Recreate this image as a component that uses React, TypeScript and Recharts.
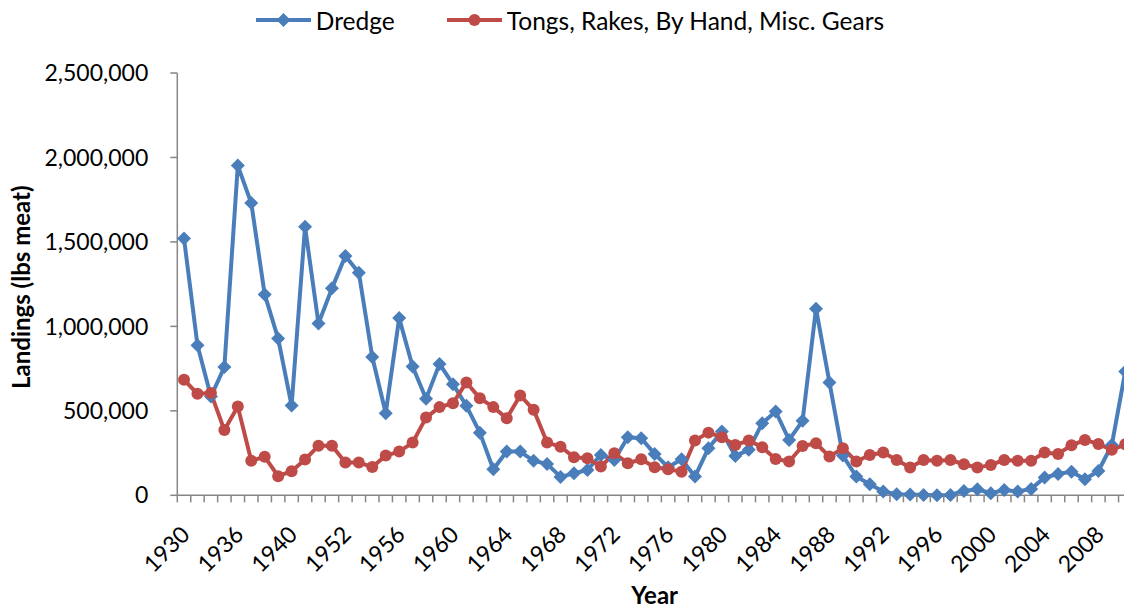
import React from 'react';
import { LineChart, Line, XAxis, YAxis, Legend } from 'recharts';

const years = [
  '1930', '1931', '1932', '1935', '1936', '1937', '1938', '1939', '1940', '1948', '1950', '1951',
  '1952', '1953', '1954', '1955', '1956', '1957', '1958', '1959', '1960', '1961', '1962', '1963',
  '1964', '1965', '1966', '1967', '1968', '1969', '1970', '1971', '1972', '1973', '1974', '1975',
  '1976', '1977', '1978', '1979', '1980', '1981', '1982', '1983', '1984', '1985', '1986', '1987',
  '1988', '1989', '1990', '1991', '1992', '1993', '1994', '1995', '1996', '1997', '1998', '1999',
  '2000', '2001', '2002', '2003', '2004', '2005', '2006', '2007', '2008', '2009', '2010',
];

const dredge = [
  1520000, 888000, 585000, 759000, 1952000, 1730000, 1189000, 928000, 531000, 1590000, 1017000, 1225000,
  1417000, 1318000, 819000, 486000, 1049000, 763000, 571000, 778000, 658000, 530000, 371000, 154000,
  259000, 259000, 204000, 186000, 109000, 130000, 150000, 239000, 209000, 344000, 338000, 245000,
  166000, 213000, 111000, 279000, 377000, 233000, 269000, 427000, 496000, 328000, 441000, 1105000,
  668000, 235000, 111000, 65000, 22000, 6000, 4000, 2000, 1000, 2000, 26000, 36000,
  12000, 32000, 22000, 38000, 105000, 126000, 140000, 95000, 144000, 298000, 733000,
];

const tongs = [
  684000, 601000, 605000, 386000, 525000, 204000, 228000, 113000, 143000, 212000, 293000, 293000,
  194000, 194000, 168000, 235000, 259000, 312000, 460000, 522000, 545000, 668000, 575000, 522000,
  456000, 591000, 506000, 312000, 288000, 225000, 219000, 170000, 249000, 190000, 213000, 166000,
  154000, 140000, 324000, 371000, 344000, 298000, 324000, 285000, 215000, 200000, 292000, 308000,
  229000, 279000, 200000, 239000, 253000, 209000, 164000, 209000, 205000, 209000, 184000, 164000,
  180000, 209000, 204000, 205000, 253000, 245000, 296000, 328000, 304000, 269000, 302000,
];

const yTicks = [0, 500000, 1000000, 1500000, 2000000, 2500000];

const data = years.map((y, i) => ({ year: y, dredge: dredge[i], tongs: tongs[i] }));

const BLUE = '#4A7EBB';
const RED = '#BE4B48';
const AXIS = '#868686';
const FONT = "Lato, 'Open Sans', sans-serif";
const FS = 23;
const FS_TITLE = 24;
const FS_LEGEND = 24.5;

const W = 1124;
const H = 600;
const M = { top: 65, right: 0, bottom: 12.7, left: 49.3 };
const X_AXIS_H = 100;
const Y_AXIS_W = 120;
const PLOT_BOTTOM = H - M.bottom - X_AXIS_H;
const PLOT_LEFT = M.left + Y_AXIS_W;
const PLOT_RIGHT = W - M.right;
const N = years.length;
const STEP = (PLOT_RIGHT - PLOT_LEFT) / N;
const HALF = STEP / 2;
const PLOT_TOP = M.top;

const fmt = (v: number) => v.toLocaleString('en-US');

const XTick = (props: any) => {
  const { x, payload, index } = props;
  const i = typeof index === 'number' ? index : payload?.index ?? 0;
  const tx = x + 1.5;
  const ty = PLOT_BOTTOM + 35;
  return (
    <g>
      <line x1={x - HALF} x2={x - HALF} y1={PLOT_BOTTOM} y2={PLOT_BOTTOM + 7} stroke={AXIS} strokeWidth={1.5} />
      {i === N - 1 && (
        <line x1={x + HALF} x2={x + HALF} y1={PLOT_BOTTOM} y2={PLOT_BOTTOM + 7} stroke={AXIS} strokeWidth={1.5} />
      )}
      {i % 4 === 0 && (
        <text
          x={tx}
          y={ty}
          dy="0.35em"
          textAnchor="end"
          transform={`rotate(-45, ${tx}, ${ty})`}
          fontFamily={FONT}
          fontSize={FS}
          fill="#000"
        >
          {payload.value}
        </text>
      )}
    </g>
  );
};

const Diamond = (props: any) => {
  const { cx, cy, index } = props;
  if (cx == null || cy == null) return <g key={`dd-${index}`} />;
  const r = 7;
  return (
    <path
      key={`dd-${index}`}
      d={`M${cx},${cy - r}L${cx + r},${cy}L${cx},${cy + r}L${cx - r},${cy}Z`}
      fill={BLUE}
      stroke="none"
    />
  );
};

const LegendContent = () => (
  <div
    style={{
      display: 'flex',
      justifyContent: 'center',
      alignItems: 'center',
      gap: 52,
      height: 24,
      fontFamily: FONT,
      fontSize: FS_LEGEND,
      color: '#000',
      whiteSpace: 'nowrap',
    }}
  >
    <div style={{ display: 'flex', alignItems: 'center' }}>
      <svg width={55} height={20}>
        <line x1={0} y1={10} x2={55} y2={10} stroke={BLUE} strokeWidth={4} />
        <path d="M27.5,3L34.5,10L27.5,17L20.5,10Z" fill={BLUE} />
      </svg>
      <span style={{ marginLeft: 5 }}>Dredge</span>
    </div>
    <div style={{ display: 'flex', alignItems: 'center' }}>
      <svg width={55} height={20}>
        <line x1={0} y1={10} x2={55} y2={10} stroke={RED} strokeWidth={4} />
        <circle cx={27.5} cy={10} r={6} fill={RED} />
      </svg>
      <span style={{ marginLeft: 5 }}>Tongs, Rakes, By Hand, Misc. Gears</span>
    </div>
  </div>
);

export default function App() {
  return (
    <div style={{ width: W, height: H }}>
      <LineChart width={W} height={H} data={data} margin={M}>
        <XAxis
          dataKey="year"
          type="category"
          height={X_AXIS_H}
          interval={0}
          padding={{ left: HALF, right: HALF }}
          axisLine={{ stroke: AXIS, strokeWidth: 1.5 }}
          tickLine={false}
          tick={<XTick />}
          label={() => (
            <text
              x={(PLOT_LEFT + PLOT_RIGHT) / 2}
              y={596}
              textAnchor="middle"
              fontFamily={FONT}
              fontSize={FS_TITLE}
              fontWeight="bold"
              fill="#000"
            >
              Year
            </text>
          )}
        />
        <YAxis
          width={Y_AXIS_W}
          domain={[0, 2500000]}
          ticks={yTicks}
          interval={0}
          tickFormatter={fmt}
          tickSize={7}
          tickMargin={22}
          axisLine={{ stroke: AXIS, strokeWidth: 1.5 }}
          tickLine={{ stroke: AXIS, strokeWidth: 1.5 }}
          tick={{ fontFamily: FONT, fontSize: FS, fill: '#000' }}
          label={() => (
            <text
              x={22.5}
              y={(PLOT_TOP + PLOT_BOTTOM) / 2 + 3}
              transform={`rotate(-90, 22.5, ${(PLOT_TOP + PLOT_BOTTOM) / 2 + 3})`}
              textAnchor="middle"
              fontFamily={FONT}
              fontSize={FS_TITLE}
              fontWeight="bold"
              fill="#000"
            >
              Landings (lbs meat)
            </text>
          )}
        />
        <Legend
          verticalAlign="middle"
          align="center"
          layout="horizontal"
          wrapperStyle={{ top: 0, left: 0, width: W }}
          content={() => <LegendContent />}
        />
        <Line
          type="linear"
          dataKey="dredge"
          name="Dredge"
          stroke={BLUE}
          strokeWidth={4}
          strokeLinejoin="round"
          dot={(p: any) => <Diamond {...p} key={`dd-${p.index}`} />}
          activeDot={false}
          isAnimationActive={false}
        />
        <Line
          type="linear"
          dataKey="tongs"
          name="Tongs, Rakes, By Hand, Misc. Gears"
          stroke={RED}
          strokeWidth={4}
          strokeLinejoin="round"
          dot={{ r: 6, fill: RED, stroke: 'none', strokeWidth: 0 }}
          activeDot={false}
          isAnimationActive={false}
        />
      </LineChart>
    </div>
  );
}
